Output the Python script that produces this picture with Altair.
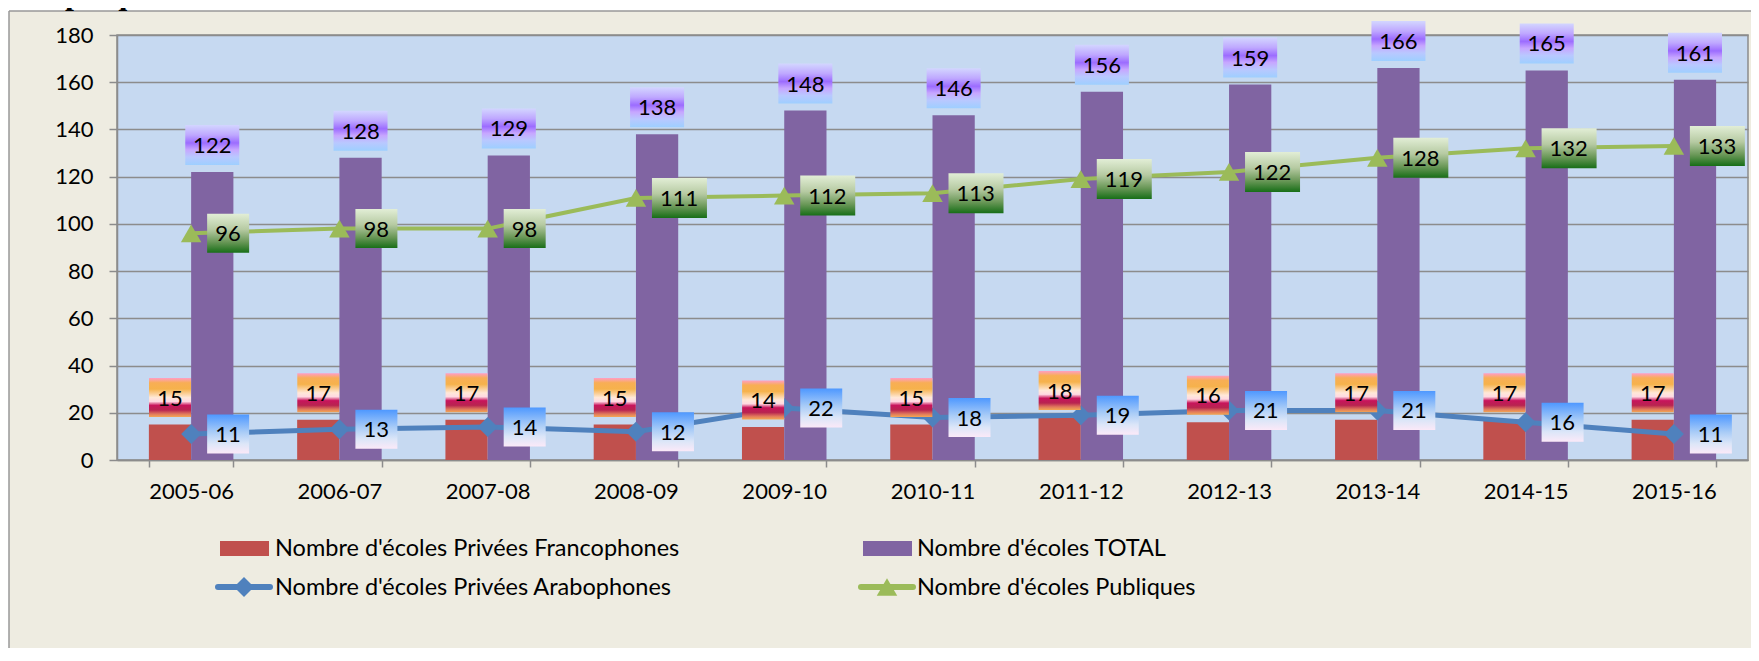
import altair as alt
import pandas as pd

# ---------------- data ----------------
years = ["2005-06", "2006-07", "2007-08", "2008-09", "2009-10", "2010-11",
         "2011-12", "2012-13", "2013-14", "2014-15", "2015-16"]
francophones = [15, 17, 17, 15, 14, 15, 18, 16, 17, 17, 17]
total = [122, 128, 129, 138, 148, 146, 156, 159, 166, 165, 161]
arabophones = [11, 13, 14, 12, 22, 18, 19, 21, 21, 16, 11]
publiques = [96, 98, 98, 111, 112, 113, 119, 122, 128, 132, 133]
y_ticks = [0, 20, 40, 60, 80, 100, 120, 140, 160, 180]

title_text = "Graphique 1.2: Évolution du nombre d'écoles"
leg_fr = "Nombre d'écoles Privées Francophones"
leg_tot = "Nombre d'écoles TOTAL"
leg_ar = "Nombre d'écoles Privées Arabophones"
leg_pub = "Nombre d'écoles Publiques"

wide = pd.DataFrame({"year": years, "fr": francophones, "tot": total,
                     "ar": arabophones, "pub": publiques})
wide["pub_nd"] = wide["pub"].astype(str).str.len().astype(str)
long = pd.DataFrame({
    "year": years * 2,
    "series": ["Fr"] * len(years) + ["Tot"] * len(years),
    "value": francophones + total,
})
one = pd.DataFrame({"k": [0]})

# ---------------- styling ----------------
W, H = 1631, 425
FONT = "Lato"
GRAY = "#8C8C8C"
RED, PURPLE, BLUE, GREEN = "#C0504D", "#8064A2", "#4F81BD", "#9BBB59"
FS = 22
step = W / len(years)
half_sub = step * (1 - 0.43) / 4  # offset of each sub-bar centre

x_enc = alt.X("year:N", sort=years,
              scale=alt.Scale(domain=years, paddingInner=0.43, paddingOuter=0.215),
              axis=alt.Axis(title=None, labelAngle=0, tickBand="extent", grid=False,
                            tickSize=7, labelPadding=14, domainColor=GRAY,
                            tickColor=GRAY, domainWidth=1.5, tickWidth=1.5,
                            labelFont=FONT, labelFontSize=FS, labelColor="black"))

yscale = alt.Scale(domain=[0, 180], nice=False, zero=True)
yaxis = alt.Axis(title=None, values=y_ticks, tickSize=8, labelPadding=16,
                 domainColor=GRAY, tickColor=GRAY, gridColor=GRAY,
                 domainWidth=1.5, tickWidth=1.5, gridWidth=1.5,
                 labelFont=FONT, labelFontSize=FS, labelColor="black")


def yenc(field):
    return alt.Y(f"{field}:Q", scale=yscale, axis=yaxis)


def grad(stops):
    return alt.Gradient(gradient="linear", x1=0, x2=0, y1=0, y2=1,
                        stops=[alt.GradientStop(offset=o, color=c) for o, c in stops])


g_tot = grad([(0, "#D3D6FF"), (0.25, "#BFA8FF"), (0.45, "#9C6CFF"),
              (0.62, "#C7A6FF"), (0.8, "#B9C8FF"), (1, "#9ECFFF")])
g_fr = grad([(0, "#FF9EC4"), (0.12, "#F8AE55"), (0.28, "#F6B24C"),
             (0.5, "#FFE8D8"), (0.6, "#FFD9E2"), (0.7, "#C8145C"),
             (0.82, "#B82450"), (0.92, "#E0785C"), (1, "#F5A852")])
g_ar = grad([(0, "#4E98FF"), (0.45, "#A9CCF7"), (0.75, "#DCE6F8"), (1, "#FBE9F8")])
g_pub = grad([(0, "#E2EED6"), (0.4, "#B6CAA2"), (0.72, "#6A9858"), (1, "#176E17")])

BOX_TOT = "M-27,-20L27,-20L27,20L-27,20Z"
BOX_FR = "M-21,-19.5L21,-19.5L21,19.5L-21,19.5Z"
BOX_R2 = "M16,-19.5L58,-19.5L58,19.5L16,19.5Z"
BOX_R3 = "M16,-20L71,-20L71,20L16,20Z"

# ---------------- data layers ----------------
bars = alt.Chart(long).mark_bar().encode(
    x=x_enc,
    xOffset=alt.XOffset("series:N", sort=["Fr", "Tot"],
                        scale=alt.Scale(domain=["Fr", "Tot"], paddingInner=0, paddingOuter=0)),
    y=yenc("value"),
    color=alt.Color("series:N", scale=alt.Scale(domain=["Fr", "Tot"], range=[RED, PURPLE]),
                    legend=None),
)

base = alt.Chart(wide)
line_pub = base.mark_line(color=GREEN, strokeWidth=4).encode(x=x_enc, y=yenc("pub"))
line_ar = base.mark_line(color=BLUE, strokeWidth=5).encode(x=x_enc, y=yenc("ar"))
pts_pub = base.mark_point(shape="triangle-up", size=420, filled=True, color=GREEN,
                          opacity=1).encode(x=x_enc, y=yenc("pub"))
pts_ar = base.mark_point(shape="diamond", size=400, filled=True, color=BLUE,
                         opacity=1).encode(x=x_enc, y=yenc("ar"))

box_tot = base.mark_point(shape=BOX_TOT, size=4, filled=True, fill=g_tot, opacity=1,
                          strokeWidth=0, xOffset=half_sub, yOffset=-27).encode(
    x=x_enc, y=yenc("tot"))
txt_tot = base.mark_text(font=FONT, fontSize=FS, color="black", baseline="middle",
                         xOffset=half_sub, yOffset=-26).encode(
    x=x_enc, y=yenc("tot"), text="tot:Q")

box_fr = base.mark_point(shape=BOX_FR, size=4, filled=True, fill=g_fr, opacity=1,
                         strokeWidth=0, xOffset=-half_sub, yOffset=-27).encode(
    x=x_enc, y=yenc("fr"))
txt_fr = base.mark_text(font=FONT, fontSize=FS, color="black", baseline="middle",
                        xOffset=-half_sub, yOffset=-26).encode(
    x=x_enc, y=yenc("fr"), text="fr:Q")

box_pub = base.mark_point(size=4, filled=True, fill=g_pub, opacity=1, strokeWidth=0).encode(
    x=x_enc, y=yenc("pub"),
    shape=alt.Shape("pub_nd:N", scale=alt.Scale(domain=["2", "3"], range=[BOX_R2, BOX_R3]),
                    legend=None))
txt_pub = base.mark_text(font=FONT, fontSize=FS, color="black", baseline="middle",
                         align="left", dx=24, dy=1).encode(
    x=x_enc, y=yenc("pub"), text="pub:Q")

box_ar = base.mark_point(shape=BOX_R2, size=4, filled=True, fill=g_ar, opacity=1,
                         strokeWidth=0).encode(x=x_enc, y=yenc("ar"))
txt_ar = base.mark_text(font=FONT, fontSize=FS, color="black", baseline="middle",
                        align="left", dx=24, dy=1).encode(
    x=x_enc, y=yenc("ar"), text="ar:Q")

# ---------------- frame, title, legend ----------------
o = alt.Chart(one)
white_top = o.mark_rect(color="white").encode(
    x=alt.value(-120), x2=alt.value(1700), y=alt.value(-40), y2=alt.value(-24))
white_left = o.mark_rect(color="white").encode(
    x=alt.value(-120), x2=alt.value(-108), y=alt.value(-40), y2=alt.value(700))
frame_top = o.mark_rule(color="#999999", strokeWidth=1.5).encode(
    x=alt.value(-108), x2=alt.value(1700), y=alt.value(-24))
frame_left = o.mark_rule(color="#999999", strokeWidth=1.5).encode(
    x=alt.value(-108), y=alt.value(-24), y2=alt.value(700))
title = o.mark_text(text=title_text, font="Liberation Serif", fontWeight="bold",
                    fontSize=32, align="left", baseline="alphabetic",
                    color="black").encode(x=alt.value(-107), y=alt.value(-31))

LFS = 23.5
sw_fr = o.mark_rect(color=RED).encode(x=alt.value(103), x2=alt.value(152),
                                      y=alt.value(506), y2=alt.value(521))
sw_tot = o.mark_rect(color=PURPLE).encode(x=alt.value(746), x2=alt.value(795),
                                          y=alt.value(506), y2=alt.value(521))
ln_ar = o.mark_rule(color=BLUE, strokeWidth=6, strokeCap="round").encode(
    x=alt.value(101), x2=alt.value(153), y=alt.value(552))
mk_ar = o.mark_point(shape="diamond", size=400, filled=True, color=BLUE, opacity=1).encode(
    x=alt.value(127), y=alt.value(552))
ln_pub = o.mark_rule(color=GREEN, strokeWidth=6, strokeCap="round").encode(
    x=alt.value(744), x2=alt.value(796), y=alt.value(552))
mk_pub = o.mark_point(shape="triangle-up", size=420, filled=True, color=GREEN,
                      opacity=1).encode(x=alt.value(770), y=alt.value(552))


def ltxt(s, x, y):
    return o.mark_text(text=s, font=FONT, fontSize=LFS, align="left", baseline="middle",
                       color="black").encode(x=alt.value(x), y=alt.value(y))


legend = [sw_fr, sw_tot, ln_ar, mk_ar, ln_pub, mk_pub,
          ltxt(leg_fr, 158, 514), ltxt(leg_tot, 800, 514),
          ltxt(leg_ar, 158, 553), ltxt(leg_pub, 800, 553)]

chart = alt.layer(
    bars, line_pub, line_ar, pts_pub, pts_ar,
    box_tot, txt_tot, box_fr, txt_fr, box_pub, txt_pub, box_ar, txt_ar,
    white_top, white_left, frame_top, frame_left, title, *legend,
).resolve_scale(
    shape="independent"
).properties(
    width=W, height=H,
    padding={"left": 109, "top": 27, "right": 3, "bottom": 188},
    autosize=alt.AutoSizeParams(type="none"),
).configure(
    background="#EEECE1"
).configure_view(
    fill="#C6D9F1", stroke=GRAY, strokeWidth=1.5
)

chart.save("out.html", embed_options={"renderer": "svg", "actions": False})
